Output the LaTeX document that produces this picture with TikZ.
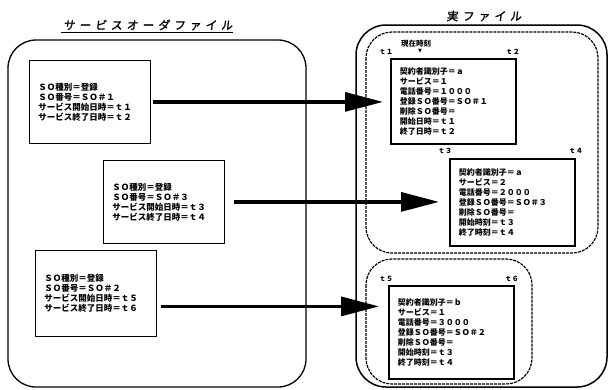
\documentclass[tikz,border=0pt]{standalone}
\usepackage{fontspec}
\setmainfont{Noto Sans CJK JP}
\newfontfamily\titlefont[FakeSlant=0.12, FakeBold=1.5]{Noto Sans CJK JP}
\newfontfamily\symbfont{DejaVu Sans}
\usetikzlibrary{arrows.meta,calc}

\tikzset{
  bigframe/.style={draw, line width=1.3pt, rounded corners=28pt},
  dashframe/.style={draw, line width=1.2pt, rounded corners=26pt, dash pattern=on 3pt off 1pt},
  orderbox/.style={draw, line width=0.8pt, anchor=north west, inner xsep=9pt, inner ysep=0pt,
    align=left, text width=103pt, minimum height=83pt,
    font=\fontsize{8.5}{10}\selectfont\bfseries},
  realbox/.style={draw, line width=1.8pt, anchor=north west, inner xsep=9pt, inner ysep=0pt,
    align=left, text width=107pt, minimum height=87pt,
    font=\fontsize{8}{10}\selectfont\bfseries},
  tlabel/.style={font=\fontsize{7}{7}\selectfont\bfseries, inner sep=0pt},
  title/.style={font=\titlefont\fontsize{11.5}{12}\selectfont, inner sep=0pt},
  arr/.style={line width=3.2pt, -{Triangle[length=38pt,width=19pt]}},
}

\begin{document}
\begin{tikzpicture}[x=1pt,y=-1pt]
\useasboundingbox[fill=white] (0,0) rectangle (609,389);

% titles
\node[title] (ttl1) at (148,25) {\makebox[169pt][s]{サ ー ビ ス オ ー ダ フ ァ イ ル}};
\draw[line width=1pt] (ttl1.south west) ++(-2pt,-2pt) coordinate (ul1) -- (ul1 -| ttl1.south east);
\node[title] (ttl2) at (484,16) {\makebox[75pt][s]{実 フ ァ イ ル}};

% frames
\draw[bigframe] (8,40) rectangle (306,387);
\draw[bigframe, line width=1.5pt, rounded corners=30pt] (356,25) rectangle (607,387);
\draw[dashframe] (366,32) rectangle (598,253);
\draw[dashframe] (366,259) rectangle (532,384);

% service order boxes
\node[orderbox] (b1) at (29,60) {ＳＯ種別＝登録\\ＳＯ番号＝ＳＯ＃１\\サービス開始日時＝ｔ１\\サービス終了日時＝ｔ２};
\node[orderbox] (b2) at (103,160) {ＳＯ種別＝登録\\ＳＯ番号＝ＳＯ＃３\\サービス開始日時＝ｔ３\\サービス終了日時＝ｔ４};
\node[orderbox, minimum height=86pt] (b3) at (35,250) {ＳＯ種別＝登録\\ＳＯ番号＝ＳＯ＃２\\サービス開始日時＝ｔ５\\サービス終了日時＝ｔ６};

% real file boxes
\node[realbox, minimum height=85pt] (ra) at (390,58) {契約者識別子＝ａ\\サービス＝１\\電話番号＝１０００\\登録ＳＯ番号＝ＳＯ＃１\\削除ＳＯ番号＝\\開始日時＝ｔ１\\終了日時＝ｔ２};
\node[realbox] (rb) at (449,158) {契約者識別子＝ａ\\サービス＝２\\電話番号＝２０００\\登録ＳＯ番号＝ＳＯ＃３\\削除ＳＯ番号＝\\開始時刻＝ｔ３\\終了時刻＝ｔ４};
\node[realbox, minimum height=93pt] (rc) at (388,285) {契約者識別子＝ｂ\\サービス＝１\\電話番号＝３０００\\登録ＳＯ番号＝ＳＯ＃２\\削除ＳＯ番号＝\\開始時刻＝ｔ３\\終了時刻＝ｔ４};

% time labels
\node[tlabel] (t1) at ([shift={(-4pt,6pt)}]ra.north west) {ｔ１};
\node[tlabel] (t2) at ([shift={(-4pt,6pt)}]ra.north east) {ｔ２};
\node[tlabel] (t3) at ([shift={(-4pt,7pt)}]rb.north west) {ｔ３};
\node[tlabel] (t4) at ([shift={(0pt,7pt)}]rb.north east) {ｔ４};
\node[tlabel] (t5) at ([shift={(-2pt,6pt)}]rc.north west) {ｔ５};
\node[tlabel] (t6) at ([shift={(-3pt,6pt)}]rc.north east) {ｔ６};
\node[font=\fontsize{7.5}{8}\selectfont\bfseries, inner sep=0pt] (now) at (416,44) {現在時刻};
\node[font=\symbfont\fontsize{5}{5}\selectfont, inner sep=0pt] (nowmark) at (420,51.5) {▼};

% arrows
\draw[arr] ([xshift=2pt]b1.east) -- ([xshift=-7pt]b1.east -| ra.west);
\draw[arr] ([xshift=9pt]b2.east) -- ([xshift=-10pt]b2.east -| rb.west);
\coordinate (s3) at ([shift={(4pt,-13pt)}]b3.east);
\draw[arr] (s3) -- ([xshift=-9pt]s3 -| rc.west);
\end{tikzpicture}
\end{document}
